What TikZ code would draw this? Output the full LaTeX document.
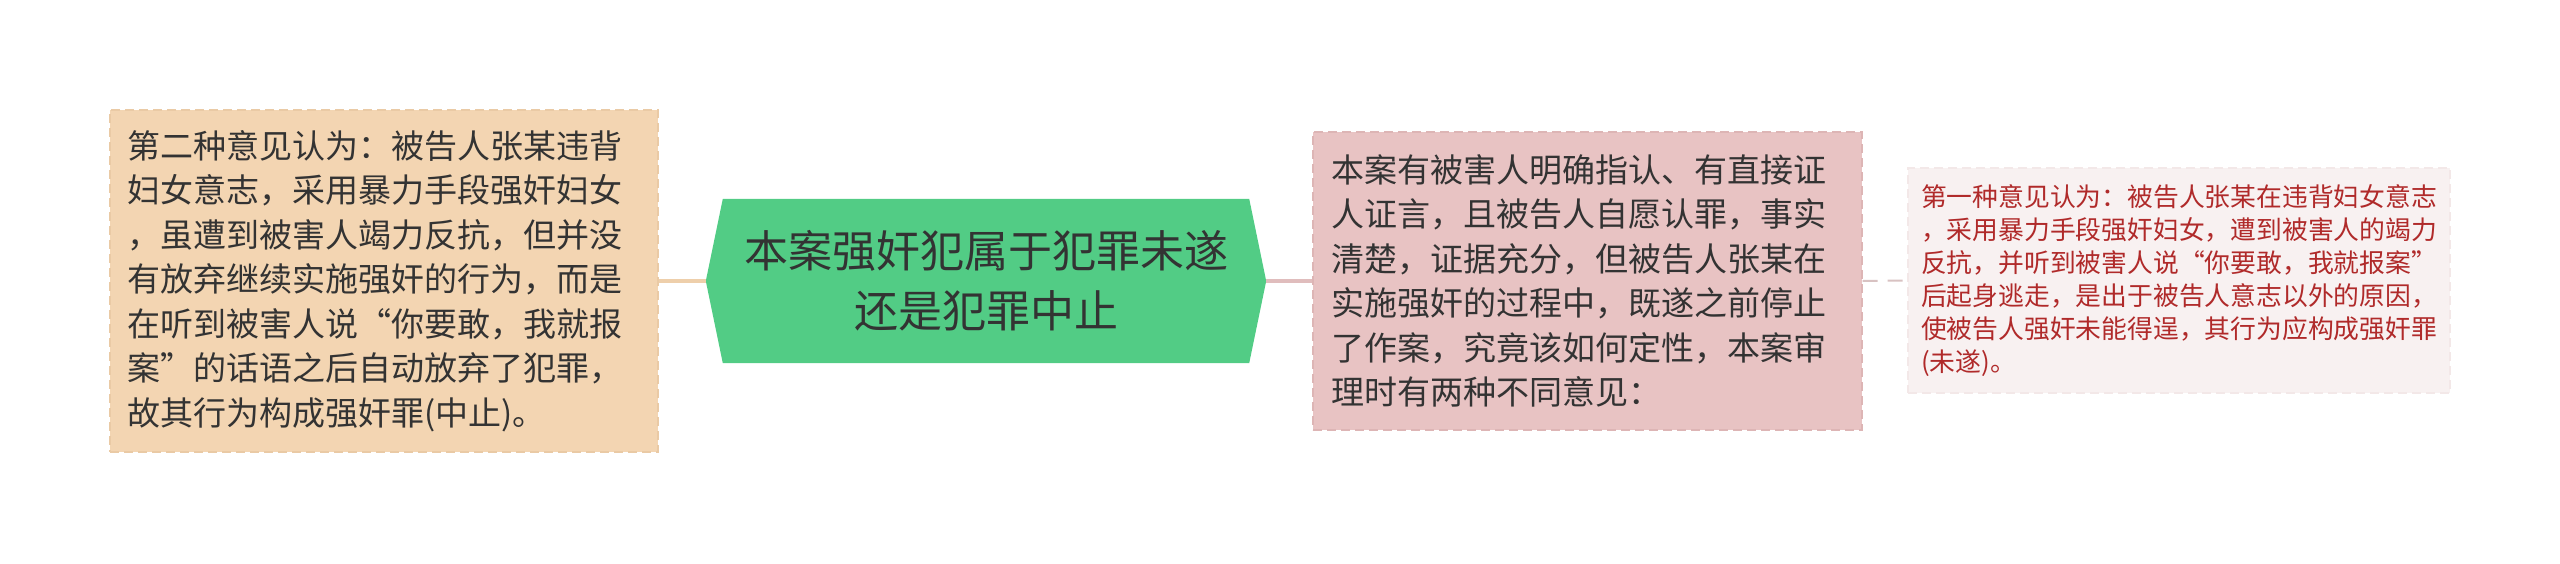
\documentclass[tikz,border=0pt]{standalone}
\usepackage{fontspec}
\newfontfamily\cjk{Noto Sans CJK SC}
\usetikzlibrary{backgrounds}
\definecolor{txt}{HTML}{333333}
\definecolor{leftfill}{HTML}{F3D5B2}
\definecolor{leftline}{HTML}{EACAA5}
\definecolor{midfill}{HTML}{E8C3C3}
\definecolor{midline}{HTML}{DDB5B5}
\definecolor{rightfill}{HTML}{F8F1F1}
\definecolor{rightline}{HTML}{F3E8E8}
\definecolor{righttxt}{HTML}{B02A2A}
\definecolor{hexfill}{HTML}{52CC85}
\definecolor{connA}{HTML}{EECFAB}
\definecolor{connB}{HTML}{E0BDBD}
\definecolor{connC}{HTML}{D8C2C2}
\begin{document}
\begin{tikzpicture}[x=1pt,y=-1pt,
  textbox/.style={rectangle, anchor=center, inner ysep=0pt, align=left,
    line width=1.2pt, dash pattern=on 9pt off 5pt, text=txt},
  bigtext/.style={font=\cjk\fontsize{33pt}{44.5pt}\selectfont},
  smalltext/.style={font=\cjk\fontsize{25.8pt}{33pt}\selectfont},
  hubtext/.style={font=\cjk\fontsize{44pt}{60pt}\selectfont},
  link/.style={line width=3.5pt}]
\useasboundingbox (0,0) rectangle (2560,563);

\node[textbox, bigtext, fill=leftfill, draw=leftline, text width=514pt, inner xsep=17pt,
  minimum height=342pt] (opt2) at (384,281)
  {第二种意见认为：被告人张某违背\\妇女意志，采用暴力手段强奸妇女\\，虽遭到被害人竭力反抗，但并没\\有放弃继续实施强奸的行为，而是\\在听到被害人说“你要敢，我就报\\案”的话语之后自动放弃了犯罪，\\故其行为构成强奸罪(中止)。};

\node[hubtext, text=txt, align=center, inner sep=0pt, minimum width=560pt,
  minimum height=164pt] (hub) at (986,281)
  {本案强奸犯属于犯罪未遂\\还是犯罪中止};
\begin{scope}[on background layer]
\fill[hexfill] ([xshift=17pt]hub.north west) -- ([xshift=-17pt]hub.north east)
  -- (hub.east) -- ([xshift=-17pt]hub.south east) -- ([xshift=17pt]hub.south west)
  -- (hub.west) -- cycle;
\end{scope}

\node[textbox, bigtext, fill=midfill, draw=midline, text width=513pt, inner xsep=18pt,
  minimum height=298pt] (case) at (1587.5,281)
  {本案有被害人明确指认、有直接证\\人证言，且被告人自愿认罪，事实\\清楚，证据充分，但被告人张某在\\实施强奸的过程中，既遂之前停止\\了作案，究竟该如何定性，本案审\\理时有两种不同意见：};

\node[textbox, smalltext, fill=rightfill, draw=rightline, text=righttxt, text width=516pt,
  inner xsep=13pt, minimum height=225pt] (opt1) at (2179,280.5)
  {第一种意见认为：被告人张某在违背妇女意志\\，采用暴力手段强奸妇女，遭到被害人的竭力\\反抗，并听到被害人说“你要敢，我就报案”\\后起身逃走，是出于被告人意志以外的原因，\\使被告人强奸未能得逞，其行为应构成强奸罪\\(未遂)。};

\draw[link, connA] (opt2.east) -- (hub.west);
\draw[link, connB] (hub.east) -- (case.west);
\draw[line width=2pt, connC, dash pattern=on 15pt off 10pt] (case.east) -- (opt1.west);
\end{tikzpicture}
\end{document}
